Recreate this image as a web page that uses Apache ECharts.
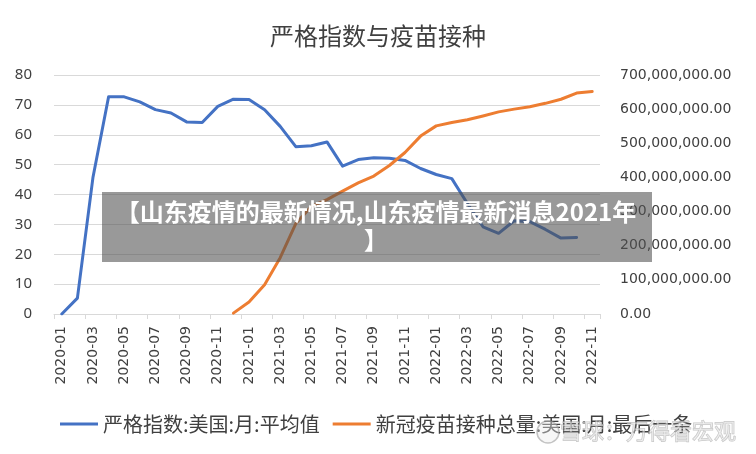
<!DOCTYPE html>
<html>
<head>
<meta charset="utf-8">
<script src="https://cdn.jsdelivr.net/npm/echarts@6/dist/echarts.min.js"></script>
<style>
  html, body { margin: 0; padding: 0; background: #fff; }
  #main { width: 756px; height: 454px; }
</style>
</head>
<body>
<div id="main"></div>
<script>
// 月份
var months = [
  '2020-01','2020-02','2020-03','2020-04','2020-05','2020-06','2020-07','2020-08','2020-09','2020-10','2020-11','2020-12',
  '2021-01','2021-02','2021-03','2021-04','2021-05','2021-06','2021-07','2021-08','2021-09','2021-10','2021-11','2021-12',
  '2022-01','2022-02','2022-03','2022-04','2022-05','2022-06','2022-07','2022-08','2022-09','2022-10','2022-11'
];
// 严格指数:美国:月:平均值
var stringency = [
  0, 5.3, 45.8, 72.7, 72.7, 71, 68.4, 67.3, 64.3, 64.1, 69.5, 71.9,
  71.8, 68.4, 62.8, 56, 56.3, 57.6, 49.5, 51.7, 52.3, 52.1, 51.4, 48.7,
  46.7, 45.3, 37, 29.2, 27, 31.2, 30.9, 28.3, 25.4, 25.6, null
];
// 新冠疫苗接种总量:美国:月:最后一条 (单位: 百万剂)
var vaccineM = [
  null, null, null, null, null, null, null, null, null, null, null, 2.5,
  35, 86, 165, 265, 315, 335, 360, 384, 404, 435, 473, 521,
  551, 561, 569, 580, 592, 600, 607, 617, 629, 647, 652
];
var vaccine = vaccineM.map(function (v) { return v == null ? null : v * 1e6; });

var leftTicks = { min: 0, max: 80, interval: 10 };
var rightTicks = { min: 0, max: 700000000, interval: 100000000 };

function fmtMoney(v) {
  var s = Math.round(v).toString().replace(/\B(?=(\d{3})+(?!\d))/g, ',');
  return s + '.00';
}

var chart = echarts.init(document.getElementById('main'));
chart.setOption({
  animation: false,
  backgroundColor: '#fff',
  title: {
    text: '严格指数与疫苗接种',
    left: 'center',
    top: 19,
    textStyle: { fontFamily: 'Noto Sans CJK SC', fontSize: 24, fontWeight: 'normal', color: '#404040' }
  },
  grid: { left: 54, right: 156, top: 75, bottom: 140 },
  legend: {
    left: 55,
    top: 409,
    itemWidth: 38,
    itemHeight: 3,
    itemGap: 13,
    icon: 'rect',
    textStyle: { fontFamily: 'Noto Sans CJK SC', fontSize: 20, color: '#404040' },
    data: ['严格指数:美国:月:平均值', '新冠疫苗接种总量:美国:月:最后一条']
  },
  xAxis: {
    type: 'category',
    data: months,
    boundaryGap: true,
    axisLine: { lineStyle: { color: '#d9d9d9', width: 1 } },
    axisTick: { show: true, interval: 1, length: 5, lineStyle: { color: '#d9d9d9' } },
    axisLabel: {
      interval: 1,
      rotate: 90,
      margin: 12,
      fontFamily: 'DejaVu Sans',
      fontSize: 14,
      color: '#404040'
    }
  },
  yAxis: [
    {
      type: 'value',
      min: leftTicks.min, max: leftTicks.max, interval: leftTicks.interval,
      axisLine: { show: false },
      axisTick: { show: false },
      splitLine: { lineStyle: { color: '#d9d9d9', width: 1 } },
      axisLabel: { margin: 22, fontFamily: 'Noto Sans', fontSize: 15, color: '#404040' }
    },
    {
      type: 'value',
      min: rightTicks.min, max: rightTicks.max, interval: rightTicks.interval,
      position: 'right',
      axisLine: { show: false },
      axisTick: { show: false },
      splitLine: { show: false },
      axisLabel: {
        margin: 20,
        fontFamily: 'DejaVu Sans',
        fontSize: 14,
        color: '#404040',
        formatter: fmtMoney
      }
    }
  ],
  series: [
    {
      name: '严格指数:美国:月:平均值',
      type: 'line',
      yAxisIndex: 0,
      data: stringency,
      showSymbol: false,
      symbol: 'none',
      color: '#4472C4',
      lineStyle: { width: 3, color: '#4472C4', join: 'round', cap: 'round' }
    },
    {
      name: '新冠疫苗接种总量:美国:月:最后一条',
      type: 'line',
      yAxisIndex: 1,
      data: vaccine,
      showSymbol: false,
      symbol: 'none',
      color: '#ED7D31',
      lineStyle: { width: 3, color: '#ED7D31', join: 'round', cap: 'round' }
    }
  ],
  graphic: [
    {
      type: 'rect',
      z: 100,
      shape: { x: 102, y: 192, width: 550, height: 70 },
      style: { fill: 'rgba(80,80,80,0.58)' }
    },
    {
      type: 'text',
      z: 101,
      x: 376,
      y: 198,
      style: {
        text: '【山东疫情的最新情况,山东疫情最新消息2021年\n】',
        fill: '#ffffff',
        fontFamily: 'Noto Sans CJK SC',
        fontWeight: 'bold',
        fontSize: 24,
        lineHeight: 28,
        align: 'center',
        verticalAlign: 'top'
      }
    },
    {
      type: 'text',
      z: 102,
      x: 560,
      y: 420,
      style: {
        text: '雪球：万得看宏观',
        fill: 'rgba(235,235,235,0.55)',
        stroke: 'rgba(150,150,150,0.55)',
        lineWidth: 1,
        fontFamily: 'Noto Sans CJK SC',
        fontSize: 22
      }
    },
    {
      type: 'circle',
      z: 102,
      shape: { cx: 548, cy: 432, r: 11 },
      style: { fill: 'rgba(235,235,235,0.4)', stroke: 'rgba(150,150,150,0.55)', lineWidth: 1.5 }
    }
  ]
});
</script>
</body>
</html>
